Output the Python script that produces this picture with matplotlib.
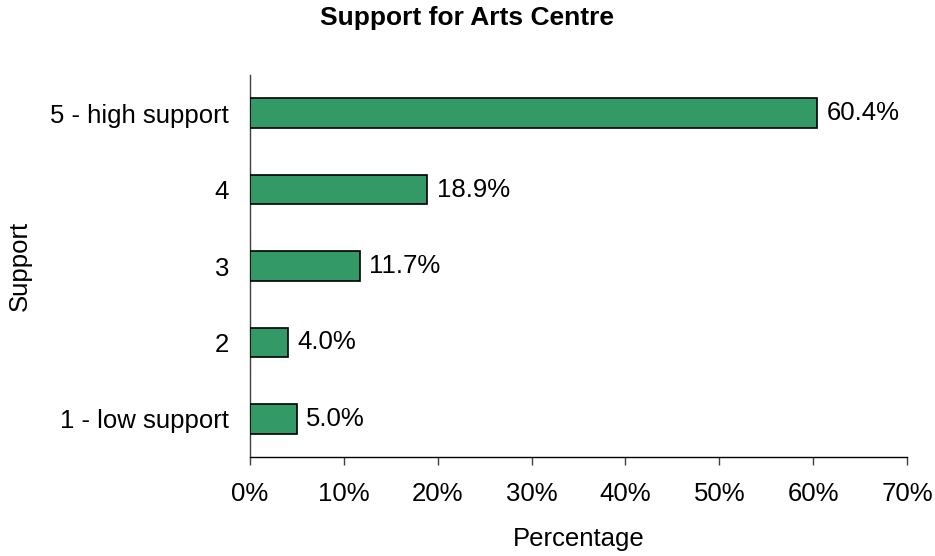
import matplotlib.pyplot as plt
from matplotlib.ticker import FuncFormatter

plt.rcParams['font.family'] = ['Liberation Sans', 'DejaVu Sans']

# Survey data (bottom to top)
categories = ["1 - low support", "2", "3", "4", "5 - high support"]
percentages = [5.0, 4.0, 11.7, 18.9, 60.4]
x_ticks = [0, 10, 20, 30, 40, 50, 60, 70]

fs = 18.5

fig = plt.figure(figsize=(9.35, 5.56), dpi=100)
ax = fig.add_axes([250 / 935, 99 / 556, 657 / 935, 382 / 556])

pos = range(len(categories))
ax.barh(pos, percentages, height=0.39, color='#339966',
        edgecolor='black', linewidth=1.2, zorder=3)

for y, v in zip(pos, percentages):
    ax.text(v + 1.0, y, f"{v:.1f}%", va='center', ha='left', fontsize=fs)

ax.set_xlim(0, 70)
ax.set_ylim(-0.5, len(categories) - 0.5)
ax.set_xticks(x_ticks)
ax.xaxis.set_major_formatter(FuncFormatter(lambda v, p: f"{v:.0f}%"))
ax.set_yticks(list(pos))
ax.set_yticklabels(categories)

ax.tick_params(axis='x', length=6, width=1, color='#404040', pad=12, labelsize=fs)
ax.tick_params(axis='y', length=0, pad=15, labelsize=fs)

for s in ['top', 'right']:
    ax.spines[s].set_visible(False)
ax.spines['left'].set_color('#404040')
ax.spines['bottom'].set_color('black')
ax.spines['left'].set_linewidth(1)
ax.spines['bottom'].set_linewidth(1)

ax.set_xlabel("Percentage", fontsize=fs, labelpad=15)
ax.set_ylabel("Support", fontsize=fs)
ax.yaxis.set_label_coords(-0.332, 0.5)

fig.suptitle("Support for Arts Centre", fontsize=19, fontweight='bold',
             x=0.5, y=1 - 6 / 556, va='top')

fig.savefig("out.png", dpi=100)
